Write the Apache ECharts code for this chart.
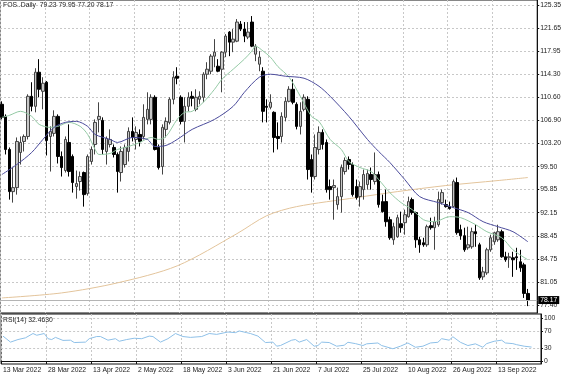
<!DOCTYPE html>
<html>
<head>
<meta charset="utf-8">
<script src="https://cdn.jsdelivr.net/npm/echarts@6/dist/echarts.min.js"></script>
<style>
html, body { margin: 0; padding: 0; background: #fff; }
#chart { width: 564px; height: 376px; }
</style>
</head>
<body>
<div id="chart"></div>
<script>
// date labels, one every 12 bars
var dateLabels = ['13 Mar 2022', '28 Mar 2022', '13 Apr 2022', '2 May 2022', '18 May 2022', '3 Jun 2022',
    '21 Jun 2022', '7 Jul 2022', '25 Jul 2022', '10 Aug 2022', '26 Aug 2022', '13 Sep 2022'];
var priceTicks = [77.40, 81.05, 84.75, 88.45, 92.15, 95.85, 99.50, 103.20, 106.90, 110.60, 114.30, 117.95, 121.65, 125.35];
var rsiTicks = [0, 30, 70, 100];

// daily bars
var open = [109.47, 107.54, 102.25, 95.51, 96.15, 101.77, 103.53, 104.33, 110.75, 109.15,
    114.60, 111.55, 113.00, 104.33, 104.82, 107.54, 101.13, 98.88, 103.37, 101.13,
    96.32, 97.12, 98.56, 95.19, 100.33, 103.05, 107.06, 106.90, 101.93, 103.05,
    102.57, 101.45, 98.56, 99.84, 101.93, 105.14, 103.85, 104.65, 104.33, 107.06,
    107.06, 110.59, 102.57, 99.52, 105.46, 106.58, 110.27, 113.96, 110.59, 106.74,
    109.15, 110.75, 108.67, 110.27, 110.59, 114.28, 114.76, 117.17, 115.56, 115.08,
    117.81, 121.02, 119.41, 119.57, 122.30, 121.50, 120.22, 122.62, 117.49, 115.88,
    114.76, 109.15, 108.99, 108.19, 104.33, 104.33, 107.38, 109.95, 111.87, 109.47,
    105.94, 108.67, 110.27, 100.65, 97.92, 102.25, 104.98, 103.37, 96.32, 96.15,
    93.43, 94.71, 98.72, 100.65, 99.84, 96.32, 94.71, 95.83, 96.64, 98.24,
    97.12, 98.24, 93.91, 93.91, 91.02, 87.81, 88.29, 90.38, 90.54, 91.50,
    94.23, 92.15, 87.81, 87.33, 87.01, 90.06, 89.74, 90.22, 93.75, 93.43,
    93.11, 93.11, 96.96, 89.42, 88.46, 86.53, 86.69, 89.10, 87.01, 81.88,
    82.52, 86.21, 87.49, 87.81, 89.10, 85.09, 84.93, 84.93, 85.09, 84.29,
    83.80, 79.23];
var high = [109.95, 107.86, 102.57, 99.36, 104.17, 104.33, 104.65, 111.07, 113.00, 115.24,
    116.69, 113.80, 113.20, 105.94, 108.51, 107.86, 101.93, 104.33, 106.26, 101.45,
    98.88, 98.72, 98.72, 101.45, 102.73, 107.06, 109.79, 107.38, 104.33, 105.46,
    103.05, 101.77, 102.73, 103.05, 105.78, 107.38, 105.94, 105.46, 109.47, 111.39,
    111.07, 110.91, 103.05, 106.26, 107.38, 110.59, 114.76, 115.40, 110.91, 110.59,
    111.39, 111.55, 111.87, 111.55, 114.60, 116.20, 117.49, 119.89, 116.69, 117.97,
    120.70, 121.18, 121.50, 123.10, 122.78, 122.62, 122.62, 123.58, 119.09, 117.97,
    115.40, 110.27, 111.07, 108.35, 106.58, 108.19, 110.59, 112.36, 113.48, 109.79,
    109.79, 111.07, 110.75, 101.45, 104.65, 105.94, 105.46, 103.85, 97.44, 97.44,
    96.15, 99.84, 100.97, 101.13, 100.17, 97.44, 97.12, 99.04, 99.04, 99.36,
    101.77, 98.72, 95.03, 95.83, 91.50, 90.54, 91.82, 92.31, 92.63, 94.71,
    94.55, 92.31, 88.29, 88.13, 90.22, 91.34, 91.50, 95.51, 95.83, 94.23,
    93.91, 97.44, 97.76, 90.22, 89.74, 89.90, 89.74, 90.22, 87.33, 83.48,
    86.53, 88.62, 89.10, 90.22, 89.42, 85.89, 85.73, 85.89, 86.53, 86.21,
    84.13, 79.95];
var low = [107.06, 101.45, 94.23, 93.75, 95.03, 99.84, 101.93, 103.85, 108.35, 108.19,
    110.59, 108.67, 101.29, 98.72, 104.33, 100.01, 97.92, 98.56, 97.92, 95.35,
    94.39, 95.67, 93.11, 94.87, 99.84, 101.45, 104.98, 101.45, 99.84, 102.57,
    100.97, 95.35, 97.12, 99.36, 100.33, 103.53, 102.25, 102.73, 103.85, 106.26,
    106.26, 102.09, 99.04, 98.24, 104.17, 106.26, 109.47, 112.68, 106.26, 103.37,
    108.35, 109.15, 108.35, 109.47, 109.79, 113.48, 114.28, 115.40, 114.60, 111.39,
    117.01, 117.17, 117.81, 119.41, 121.18, 119.41, 119.89, 118.61, 116.37, 114.76,
    106.58, 106.58, 108.67, 101.77, 102.25, 103.37, 106.74, 109.79, 109.47, 105.46,
    104.65, 108.35, 97.44, 95.35, 97.44, 101.45, 102.25, 95.35, 94.23, 91.02,
    92.63, 92.15, 98.24, 99.04, 94.71, 94.23, 93.11, 94.23, 95.83, 95.83,
    96.64, 92.95, 92.15, 89.90, 87.81, 87.01, 88.13, 88.94, 88.62, 91.34,
    91.82, 86.53, 85.73, 86.69, 86.69, 89.42, 86.21, 89.90, 93.43, 92.95,
    92.63, 92.95, 88.62, 87.81, 85.89, 86.21, 86.37, 86.69, 81.40, 81.40,
    82.20, 85.89, 87.01, 87.49, 84.93, 84.29, 83.32, 81.88, 83.00, 82.68,
    78.51, 77.20];
var close = [107.38, 102.25, 95.51, 96.15, 103.53, 103.37, 104.33, 110.75, 109.15, 114.60,
    111.87, 112.84, 103.69, 105.14, 107.54, 101.13, 99.36, 103.85, 98.72, 96.96,
    96.80, 97.92, 95.03, 101.13, 102.25, 106.58, 107.54, 102.25, 104.01, 103.85,
    101.45, 98.72, 101.93, 102.57, 105.14, 104.17, 104.98, 103.53, 107.38, 108.67,
    110.59, 102.25, 99.36, 105.78, 106.74, 110.27, 113.80, 113.64, 106.74, 109.15,
    110.59, 110.43, 110.59, 110.75, 114.28, 115.08, 117.17, 117.81, 114.76, 117.81,
    120.38, 119.41, 119.89, 122.62, 121.50, 120.38, 121.02, 118.77, 118.77, 117.01,
    108.35, 108.99, 109.79, 104.17, 104.01, 107.54, 109.95, 111.87, 109.79, 105.94,
    108.35, 110.59, 99.04, 97.92, 102.57, 104.98, 103.05, 95.83, 95.83, 96.48,
    94.71, 99.36, 100.49, 99.84, 95.03, 94.55, 96.32, 98.24, 98.40, 97.44,
    98.24, 93.43, 92.31, 90.70, 88.13, 89.90, 91.34, 89.74, 91.82, 93.91,
    92.15, 87.81, 87.01, 87.01, 89.90, 89.74, 90.70, 94.23, 95.35, 93.11,
    92.79, 97.12, 88.94, 88.46, 86.21, 87.01, 89.10, 88.78, 81.72, 82.68,
    86.21, 88.13, 88.94, 89.10, 85.09, 84.61, 85.09, 84.61, 84.93, 83.32,
    79.23, 78.17];

// moving averages and RSI, [bar, value]
var maFast = [[0, 107.38], [2, 107.70], [5, 108.35], [8, 107.54], [10, 106.26], [13, 105.78], [15, 105.94],
    [18, 106.58], [21, 105.94], [23, 104.65], [25, 102.25], [26, 101.45], [29, 101.61], [31, 102.25],
    [34, 102.73], [37, 103.37], [40, 104.17], [42, 103.85], [44, 104.33], [47, 107.06], [49, 108.19],
    [51, 108.35], [54, 109.79], [57, 111.87], [59, 113.48], [62, 115.08], [65, 116.69], [67, 117.97],
    [68, 118.77], [70, 118.00], [72, 117.00], [74, 115.50], [77, 113.80], [80, 110.75], [83, 107.54],
    [85, 106.74], [88, 103.85], [91, 102.25], [93, 100.33], [96, 99.36], [99, 98.72], [101, 97.44],
    [104, 95.35], [107, 93.75], [110, 92.63], [113, 91.02], [116, 90.70], [120, 91.50], [123, 91.34],
    [127, 90.22], [130, 89.10], [134, 88.13], [137, 86.21], [141, 84.61]];
var maSlow = [[0, 98.24], [4, 99.84], [8, 101.77], [11, 103.85], [14, 105.78], [17, 106.58], [20, 106.74],
    [23, 105.94], [25, 104.65], [29, 103.85], [31, 103.37], [35, 104.17], [39, 103.85], [41, 102.73],
    [44, 102.89], [47, 103.85], [51, 105.46], [57, 107.06], [62, 109.15], [65, 111.39], [69, 113.80],
    [72, 114.28], [76, 113.96], [81, 113.64], [85, 112.36], [88, 110.75], [93, 107.54], [98, 103.85],
    [101, 101.93], [104, 100.17], [108, 97.44], [112, 94.71], [117, 93.75], [121, 92.95], [125, 92.15],
    [129, 90.70], [133, 89.90], [137, 89.10], [141, 87.49]];
var ma200 = [[0, 78.51], [16, 79.31], [31, 80.92], [47, 83.64], [63, 88.78], [71, 91.66], [79, 93.11],
    [95, 94.55], [106, 95.51], [119, 96.48], [133, 97.28], [141, 97.76]];
var rsi = [[0, 58], [2, 44], [4, 50], [6, 54], [8, 64], [9, 60], [11, 64], [12, 52], [13, 50], [14, 55],
    [16, 48], [18, 48.5], [19, 43], [22, 44], [23, 52], [25, 57], [26, 57], [28, 48.5], [30, 52], [31, 46],
    [33, 50], [35, 53], [37, 52], [39, 58], [40, 57], [42, 44], [44, 52], [46, 64], [48, 57], [50, 55],
    [53, 57], [55, 64], [57, 62], [60, 67.5], [62, 66], [63, 70], [65, 66], [66, 64], [68, 58], [70, 43],
    [72, 44], [73, 34.5], [74, 36], [77, 48.5], [78, 50], [79, 44], [81, 50], [83, 34.5], [84, 36], [85, 44],
    [87, 43], [89, 34.5], [91, 36.7], [92, 43.6], [94, 40.5], [96, 36], [97, 40], [100, 42], [101, 36],
    [104, 28.5], [106, 34.5], [108, 42], [110, 32], [112, 34.5], [114, 42], [116, 43.6], [117, 52],
    [119, 48.5], [120, 56.5], [122, 43.6], [124, 36], [126, 40], [128, 32], [129, 40.5], [131, 46],
    [133, 48.5], [134, 42], [136, 40.5], [137, 38], [139, 34.5], [141, 32.463]];

var chart = echarts.init(document.getElementById('chart'));
var font = '"Liberation Sans", Arial, sans-serif';
var slots = 144; // bars plus empty room on the right
var cats = [];
for (var i = 0; i < slots; i++) cats.push(i);
var candles = [];
for (var i = 0; i < close.length; i++) candles.push([open[i], close[i], low[i], high[i]]);
var last = close.length - 1;
var rsiLast = rsi[rsi.length - 1][1];

function everyDate(i) { return i % 12 === 0; }
var dotted = {show: true, lineStyle: {color: '#c8c8c8', type: [2, 2], width: 1}};
var vDotted = {show: true, interval: everyDate, lineStyle: {color: '#c8c8c8', type: [2, 2], width: 1}};
var txt = {fontFamily: font, fontSize: 6.8, color: '#222'};

chart.setOption({
    animation: false,
    textStyle: {fontFamily: font},
    title: [
        {
            text: 'FOS..Daily  ' + [open[last], high[last], low[last], close[last]].map(function (v) { return v.toFixed(2); }).join(' '),
            left: 3, top: 2, padding: 0,
            textStyle: {fontFamily: font, fontSize: 6.8, fontWeight: 'normal', color: '#222'}
        },
        {
            text: 'RSI(14) ' + rsiLast.toFixed(4),
            left: 3, top: 317, padding: 0,
            textStyle: {fontFamily: font, fontSize: 6.8, fontWeight: 'normal', color: '#222'}
        }
    ],
    grid: [
        {left: 0, top: 0, width: 541, height: 313, show: true, borderColor: '#111', borderWidth: 1},
        {left: 0, top: 314, width: 541, height: 50, show: true, borderColor: '#111', borderWidth: 1}
    ],
    xAxis: [
        {
            type: 'category', gridIndex: 0, data: cats,
            axisLine: {show: false}, axisTick: {show: false}, axisLabel: {show: false},
            splitLine: vDotted
        },
        {
            type: 'category', gridIndex: 1, data: cats,
            axisLine: {show: true, lineStyle: {color: '#111'}},
            axisTick: {show: true, interval: everyDate, length: 3, lineStyle: {color: '#111'}},
            axisLabel: Object.assign({
                interval: everyDate, align: 'left', margin: 3,
                formatter: function (v, i) { return dateLabels[i / 12]; }
            }, txt),
            splitLine: vDotted
        }
    ],
    yAxis: [
        {
            type: 'value', gridIndex: 0, position: 'right', min: 76.1, max: 126.15,
            axisLine: {show: true, lineStyle: {color: '#111'}},
            axisTick: {show: true, length: 2, customValues: priceTicks, lineStyle: {color: '#111'}},
            axisLabel: Object.assign({
                customValues: priceTicks, margin: 3,
                formatter: function (v) { return v.toFixed(2); }
            }, txt),
            splitLine: dotted
        },
        {
            type: 'value', gridIndex: 1, position: 'right', min: -7, max: 109.5,
            axisLine: {show: true, lineStyle: {color: '#111'}},
            axisTick: {show: true, length: 2, customValues: rsiTicks, lineStyle: {color: '#111'}},
            axisLabel: Object.assign({customValues: rsiTicks, margin: 3}, txt),
            splitLine: dotted
        }
    ],
    series: [
        {
            type: 'line', xAxisIndex: 0, yAxisIndex: 0, data: ma200, showSymbol: false, smooth: 0.3,
            lineStyle: {color: '#e3c49b', width: 1}, z: 1
        },
        {
            type: 'candlestick', xAxisIndex: 0, yAxisIndex: 0, data: candles, barWidth: 3,
            itemStyle: {color: '#c8c8c8', color0: '#000', borderColor: '#444', borderColor0: '#000', borderWidth: 1},
            markLine: {
                silent: true, symbol: 'none', animation: false,
                lineStyle: {color: '#b4b4b4', type: 'solid', width: 1},
                label: {
                    position: 'end', distance: 1, formatter: close[last].toFixed(2),
                    backgroundColor: '#000', color: '#fff', fontFamily: font, fontSize: 6.8, padding: [1, 2, 0, 2]
                },
                data: [{yAxis: close[last]}]
            },
            z: 3
        },
        {
            type: 'line', xAxisIndex: 0, yAxisIndex: 0, data: maFast, showSymbol: false, smooth: 0.3,
            lineStyle: {color: '#93c9a4', width: 1}, z: 4
        },
        {
            type: 'line', xAxisIndex: 0, yAxisIndex: 0, data: maSlow, showSymbol: false, smooth: 0.3,
            lineStyle: {color: '#4b4b9b', width: 1}, z: 4
        },
        {
            type: 'line', xAxisIndex: 1, yAxisIndex: 1, data: rsi, showSymbol: false,
            lineStyle: {color: '#8ec0e8', width: 1}
        }
    ]
});
</script>
</body>
</html>
